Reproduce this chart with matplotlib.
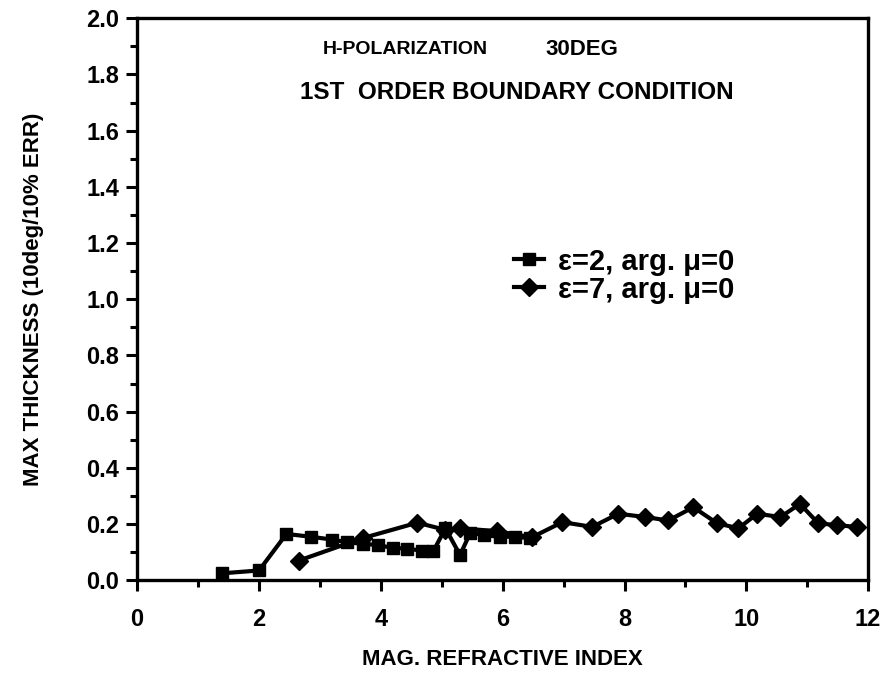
import matplotlib
matplotlib.use("Agg")
import matplotlib.pyplot as plt
from matplotlib.ticker import MultipleLocator

plt.rcParams['font.family'] = ['Liberation Sans', 'DejaVu Sans']
plt.rcParams['font.weight'] = 'bold'

# epsilon=2 series (squares)
sq_x = [1.4, 2.0, 2.45, 2.85, 3.2, 3.45, 3.7, 3.96, 4.2, 4.43, 4.68, 4.86, 5.06, 5.3, 5.47, 5.7, 5.95, 6.2, 6.45]
sq_y = [0.025, 0.035, 0.165, 0.155, 0.145, 0.135, 0.13, 0.125, 0.115, 0.113, 0.105, 0.103, 0.185, 0.09, 0.17, 0.16, 0.155, 0.155, 0.15]

# epsilon=7 series (diamonds)
dm_x = [2.65, 3.7, 4.6, 5.05, 5.3, 5.9, 6.48, 6.98, 7.47, 7.9, 8.34, 8.72, 9.13, 9.52, 9.87, 10.18, 10.56, 10.88, 11.18, 11.49, 11.82]
dm_y = [0.07, 0.15, 0.205, 0.18, 0.185, 0.175, 0.153, 0.207, 0.19, 0.237, 0.225, 0.213, 0.26, 0.203, 0.185, 0.237, 0.225, 0.272, 0.203, 0.196, 0.19]

x_ticks = [0, 2, 4, 6, 8, 10, 12]
y_ticks = [0.0, 0.2, 0.4, 0.6, 0.8, 1.0, 1.2, 1.4, 1.6, 1.8, 2.0]

fig = plt.figure(figsize=(8.85, 6.74), dpi=100)
ax = fig.add_axes([0.155, 0.139, 0.826, 0.834])

ax.plot(sq_x, sq_y, color='black', lw=3, marker='s', ms=9, mfc='black', mec='black',
        label='\u03b5=2, arg. \u03bc=0')
ax.plot(dm_x, dm_y, color='black', lw=3, marker='D', ms=9, mfc='black', mec='black',
        label='\u03b5=7, arg. \u03bc=0')

ax.set_xlim(0, 12)
ax.set_ylim(0, 2.0)
ax.set_xticks(x_ticks)
ax.set_xticklabels([str(t) for t in x_ticks])
ax.set_yticks(y_ticks)
ax.set_yticklabels([f"{t:.1f}" for t in y_ticks])
ax.xaxis.set_minor_locator(MultipleLocator(1))
ax.yaxis.set_minor_locator(MultipleLocator(0.1))
ax.tick_params(which='major', direction='out', length=8, width=2.2, labelsize=17)
ax.tick_params(axis='x', which='major', pad=12)
ax.tick_params(axis='y', which='major', pad=5)
ax.tick_params(which='minor', direction='out', length=5, width=2.2)
for lab in ax.get_xticklabels() + ax.get_yticklabels():
    lab.set_fontweight('bold')
for s in ax.spines.values():
    s.set_linewidth(2.4)

ax.set_xlabel('MAG. REFRACTIVE INDEX', fontsize=16, fontweight='bold', labelpad=13)
ax.set_ylabel('MAX THICKNESS (10deg/10% ERR)', fontsize=16, fontweight='bold', labelpad=30)

ax.text(0.367, 0.945, 'H-POLARIZATION', transform=ax.transAxes,
        ha='center', va='center', fontsize=14, fontweight='bold')
ax.text(0.608, 0.945, '30DEG', transform=ax.transAxes,
        ha='center', va='center', fontsize=16, fontweight='bold')
ax.text(0.519, 0.867, '1ST  ORDER BOUNDARY CONDITION', transform=ax.transAxes,
        ha='center', va='center', fontsize=17.5, fontweight='bold')

leg = ax.legend(loc='center left', bbox_to_anchor=(0.5, 0.542), frameon=False,
                fontsize=21, handlelength=1.0, handletextpad=0.5, labelspacing=0.0,
                borderaxespad=0)
for t in leg.get_texts():
    t.set_fontweight('bold')

fig.savefig('out.png', dpi=100)
